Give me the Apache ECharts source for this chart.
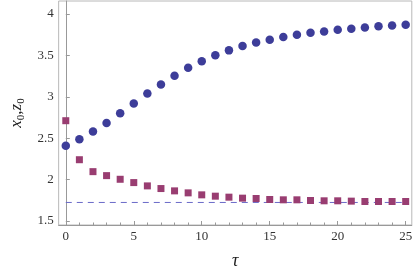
<!DOCTYPE html>
<html>
<head>
<meta charset="utf-8">
<script src="https://cdn.jsdelivr.net/npm/echarts@6/dist/echarts.min.js"></script>
<style>html,body{margin:0;padding:0;background:#fff;}#c{width:415px;height:275px;}</style>
</head>
<body>
<div id="c"></div>
<script>
var tau = [0,1,2,3,4,5,6,7,8,9,10,11,12,13,14,15,16,17,18,19,20,21,22,23,24,25];
var x0 = [2.41,2.488,2.58,2.683,2.80,2.92,3.04,3.149,3.253,3.349,3.428,3.50,3.56,3.613,3.656,3.688,3.72,3.748,3.772,3.788,3.808,3.82,3.836,3.852,3.86,3.868];
var z0 = [2.711,2.24,2.096,2.048,2.004,1.964,1.924,1.892,1.864,1.84,1.816,1.80,1.788,1.776,1.772,1.76,1.756,1.756,1.748,1.744,1.744,1.74,1.736,1.736,1.736,1.736];
var limitValue = 1.724;
var limitRange = [0, 25];
var xTicks = [0,5,10,15,20,25];
var xMinorTicks = [1,2,3,4,6,7,8,9,11,12,13,14,16,17,18,19,21,22,23,24];
var yTicks = [1.5,2,2.5,3,3.5,4];

var chart = echarts.init(document.getElementById('c'), null, {renderer:'canvas'});
var font = '"Liberation Serif", "Times New Roman", serif';
var axisCol = '#999';
chart.setOption({
  animation: false,
  backgroundColor: '#fff',
  grid: {left: 48, top: 1, right: 1, bottom: 48, show: true, borderColor: '#b8b8b8', borderWidth: 1},
  xAxis: [{
    type: 'value', min: -0.525, max: 25.45,
    name: 'τ', nameLocation: 'middle', nameGap: 27,
    nameTextStyle: {fontFamily: font, fontStyle: 'italic', fontSize: 18, color: '#222'},
    axisLine: {show: true, lineStyle: {color: axisCol}},
    axisTick: {show: true, inside: true, length: 4, lineStyle: {color: axisCol}, customValues: xTicks},
    axisLabel: {fontFamily: font, fontSize: 13, color: '#333', margin: 5, customValues: xTicks},
    splitLine: {show: false}
  },{
    type: 'value', min: -0.525, max: 25.45, position: 'bottom',
    axisLine: {show: false},
    axisTick: {show: true, inside: true, length: 2.5, lineStyle: {color: axisCol}, customValues: xMinorTicks},
    axisLabel: {show: false, customValues: xMinorTicks},
    splitLine: {show: false}
  }],
  yAxis: {
    type: 'value', min: 1.452, max: 4.156,
    name: '{i|x}{s|0}{n|,}{i|z}{s|0}', nameLocation: 'middle', nameGap: 30,
    nameTextStyle: {
      rich: {
        i: {fontFamily: font, fontStyle: 'italic', fontSize: 17, color: '#222', lineHeight: 20},
        s: {fontFamily: font, fontSize: 11, color: '#222', lineHeight: 20, verticalAlign: 'bottom', padding: [6,0,0,0]},
        n: {fontFamily: font, fontSize: 17, color: '#222', lineHeight: 20}
      }
    },
    axisLine: {show: true, lineStyle: {color: axisCol}},
    axisTick: {show: true, inside: true, length: 4, lineStyle: {color: axisCol}, customValues: yTicks},
    axisLabel: {fontFamily: font, fontSize: 13, color: '#333', margin: 5, customValues: yTicks},
    splitLine: {show: false}
  },
  series: [{
    type: 'line',
    data: limitRange.map(function(t){return [t, limitValue];}),
    symbol: 'none',
    lineStyle: {color: '#6a6ac8', width: 1, type: [6,5]},
    z: 1
  },{
    type: 'scatter',
    data: tau.map(function(t,i){return [t, x0[i]];}),
    symbol: 'circle', symbolSize: 8.5,
    itemStyle: {color: '#3d3d99', opacity: 1},
    z: 3
  },{
    type: 'scatter',
    data: tau.map(function(t,i){return [t, z0[i]];}),
    symbol: 'rect', symbolSize: 7,
    itemStyle: {color: '#993d71', opacity: 1},
    z: 3
  }]
});
</script>
</body>
</html>
